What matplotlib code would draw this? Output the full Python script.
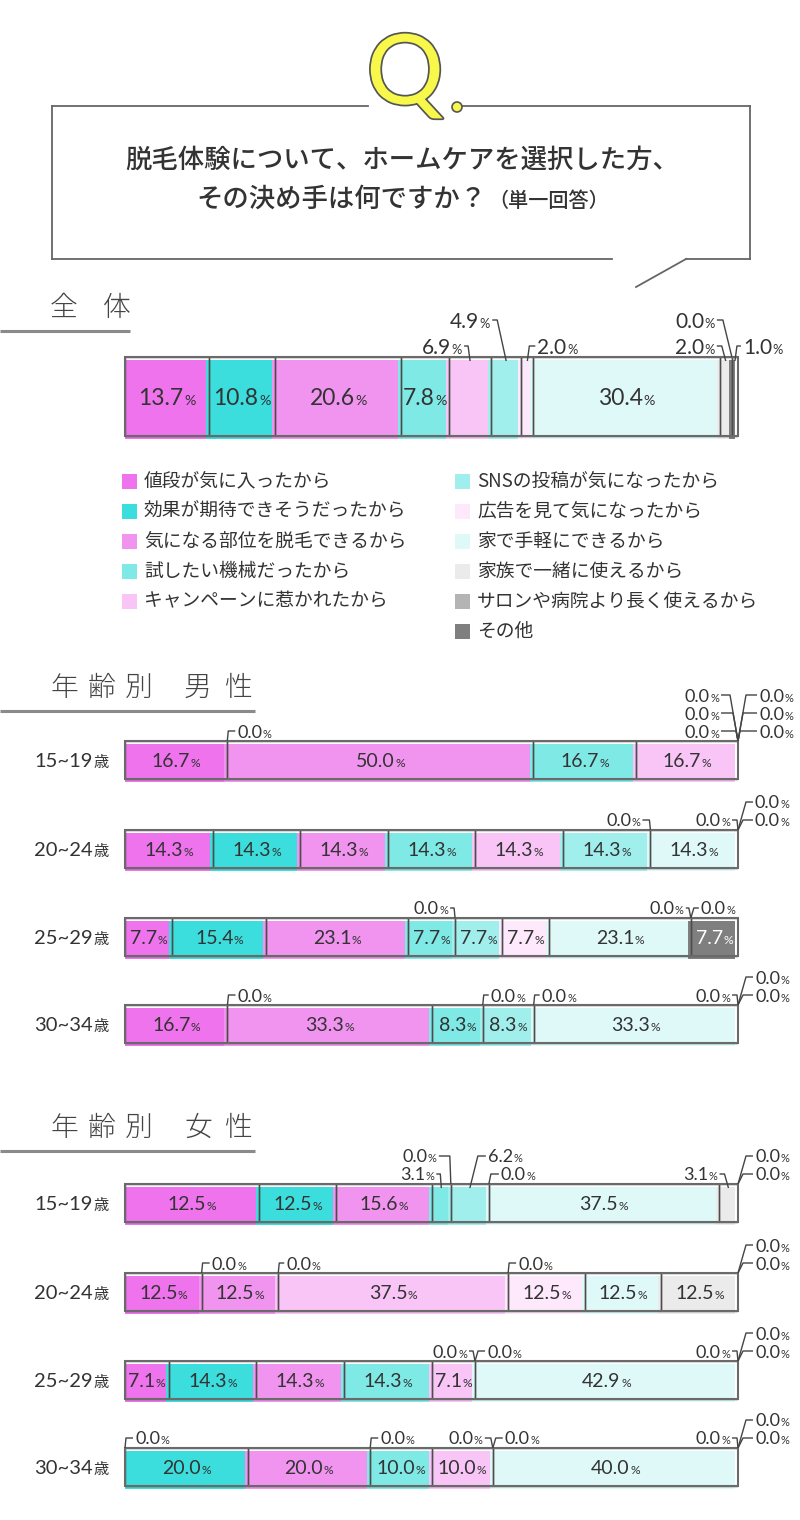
import matplotlib
matplotlib.use('Agg')
import matplotlib.pyplot as plt
from matplotlib import font_manager as fm
from matplotlib.transforms import offset_copy
from matplotlib.patches import Rectangle, Circle
import matplotlib.patheffects as pe
import numpy as np

JP = 'Noto Sans CJK JP'
plt.rcParams['font.family'] = [JP, 'DejaVu Sans']
_avail = {f.name for f in fm.fontManager.ttflist}
NUMFAM = 'Lato' if 'Lato' in _avail else 'DejaVu Sans'

# ---------------- data ----------------
TITLE_LINE1 = '脱毛体験について、ホームケアを選択した方、'
TITLE_LINE2 = 'その決め手は何ですか？'
TITLE_NOTE = '（単一回答）'

CATEGORIES = ['値段が気に入ったから', '効果が期待できそうだったから', '気になる部位を脱毛できるから',
              '試したい機械だったから', 'キャンペーンに惹かれたから', 'SNSの投稿が気になったから',
              '広告を見て気になったから', '家で手軽にできるから', '家族で一緒に使えるから',
              'サロンや病院より長く使えるから', 'その他']
COLORS = ['#ef73ec', '#3bdedc', '#f194ef', '#7fe9e5', '#f9c5f6', '#a1efed',
          '#fde8fc', '#dff9f9', '#ebebeb', '#b4b4b4', '#7f7f7f']

OVERALL = [13.7, 10.8, 20.6, 7.8, 6.9, 4.9, 2.0, 30.4, 2.0, 0.0, 1.0]
AGE_LABELS = ['15~19', '20~24', '25~29', '30~34']
MALE = [
    [16.7, 0.0, 50.0, 16.7, 16.7, 0.0, 0.0, 0.0, 0.0, 0.0, 0.0],
    [14.3, 14.3, 14.3, 14.3, 14.3, 14.3, 0.0, 14.3, 0.0, 0.0, 0.0],
    [7.7, 15.4, 23.1, 7.7, 0.0, 7.7, 7.7, 23.1, 0.0, 0.0, 7.7],
    [16.7, 0.0, 33.3, 8.3, 0.0, 8.3, 0.0, 33.3, 0.0, 0.0, 0.0],
]
FEMALE = [
    [21.9, 12.5, 15.6, 3.1, 0.0, 6.2, 0.0, 37.5, 3.1, 0.0, 0.0],
    [12.5, 0.0, 12.5, 0.0, 37.5, 0.0, 12.5, 12.5, 12.5, 0.0, 0.0],
    [7.1, 14.3, 14.3, 14.3, 7.1, 0.0, 0.0, 42.9, 0.0, 0.0, 0.0],
    [0.0, 20.0, 20.0, 10.0, 10.0, 0.0, 0.0, 40.0, 0.0, 0.0, 0.0],
]
# label printed in the source that differs from the segment length
FEMALE_PRINTED = {(0, 0): '12.5'}

# ---------------- layout ----------------
BX0, BW = 125, 613
TOTAL_TOP, TOTAL_H = 357, 79
MALE_TOPS = [741, 830, 918, 1005]
FEMALE_TOPS = [1184, 1273, 1361, 1448]
ROW_H = 38

# callouts: (category, side, level, text_dx, kink_dx[, mode, text])
TOTAL_CALLOUTS = [(4, 'L', 0, 8, 2), (5, 'L', 1, 16, 9), (6, 'R', 0, 10, 2),
                  (9, 'L', 1, 17, 9), (8, 'L', 0, 11, 4), (10, 'R', 0, 8, 2)]
MALE_CALLOUTS = [
    [(1, 'R', 0, 10, 1), (5, 'L', 2, 19, 8), (6, 'L', 1, 19, 5), (7, 'L', 0, 19, 2),
     (8, 'R', 0, 21, 2), (9, 'R', 1, 21, 5), (10, 'R', 2, 21, 8)],
    [(6, 'L', 0, 10, 1), (8, 'L', 0, 8, 1), (9, 'R', 1, 17, 8), (10, 'R', 0, 17, 5)],
    [(4, 'L', 0, 7, 1), (8, 'L', 0, 7, 2), (9, 'R', 0, 10, 3)],
    [(1, 'R', 0, 10, 1), (4, 'R', 0, 8, 1), (6, 'R', 0, 8, 1), (8, 'L', 0, 8, 1),
     (9, 'R', 1, 17, 8), (10, 'R', 0, 17, 5)],
]
FEMALE_CALLOUTS = [
    [(3, 'L', 0, 7, 1), (4, 'L', 1, 14, 1), (5, 'R', 1, 18, 8), (6, 'R', 0, 12, 2),
     (8, 'L', 0, 11, 4), (9, 'R', 1, 17, 8), (10, 'R', 0, 17, 5)],
    [(1, 'R', 0, 10, 1), (3, 'R', 0, 8, 1), (5, 'R', 0, 10, 1), (9, 'R', 1, 17, 8), (10, 'R', 0, 17, 5)],
    [(5, 'L', 0, 8, 2), (6, 'R', 0, 12, 3), (8, 'L', 0, 8, 1), (9, 'R', 1, 17, 8), (10, 'R', 0, 17, 5)],
    [(0, 'R', 0, 10, 1), (3, 'R', 0, 10, 1, 'start', '0.0'), (5, 'L', 0, 10, 2), (6, 'R', 0, 12, 3),
     (8, 'L', 0, 8, 1), (9, 'R', 1, 17, 8), (10, 'R', 0, 17, 5)],
]

TXT = '#333333'
LINE = '#444444'

fig = plt.figure(figsize=(8, 15.2), dpi=100)
fig.patch.set_facecolor('white')
axb = fig.add_axes([BX0 / 800, 0, BW / 800, 1])
axb.set_xlim(0, 100)
axb.set_ylim(1520, 0)
axb.axis('off')
axb.set_zorder(1)
bg = fig.add_axes([0, 0, 1, 1])
bg.set_xlim(0, 800)
bg.set_ylim(1520, 0)
bg.axis('off')
bg.set_zorder(2)
R = fig.canvas.get_renderer()


def px(p):
    return BX0 + p / 100.0 * BW


def composite(parts, x, y, ha='center', cfrac=0.36, gap=1.0, zorder=5):
    """parts: list of (text, props). y = visual centre (pixels, down)."""
    em = parts[0][1]['fontsize'] * 100 / 72.0
    base = y + cfrac * em
    ts, ws = [], []
    for s, props in parts:
        t = bg.text(0, 0, s, va='baseline', ha='left', zorder=zorder, **props)
        ts.append(t)
        ws.append(t.get_window_extent(renderer=R).width)
    total = sum(ws) + gap * (len(ws) - 1)
    if ha == 'center':
        x0 = x - total / 2
    elif ha == 'left':
        x0 = x
    else:
        x0 = x - total
    cx = x0
    for t, w in zip(ts, ws):
        t.set_position((cx, base))
        cx += w + gap


def pct(x, y, num, size, ha='center', color=TXT):
    p1 = dict(fontsize=size, family=NUMFAM, color=color, fontweight='normal')
    p2 = dict(fontsize=size * 0.62, family=NUMFAM, color=color, fontweight='normal')
    composite([(num, p1), ('%', p2)], x, y, ha=ha, gap=0.5)


def draw_row(vals, top, h, in_size, co_size, callouts, base, dy, printed=None):
    printed = printed or {}
    v = np.array(vals, float)
    w = v / v.sum() * 100
    left = np.concatenate([[0], np.cumsum(w)[:-1]])
    yc = top + h / 2
    nz = w > 0
    cols = [c for c, k in zip(COLORS, nz) if k]
    fills = axb.barh([yc] * int(nz.sum()), w[nz], left=left[nz], height=h,
                     color=cols, linewidth=0, zorder=1)
    off = offset_copy(axb.transData, fig=fig, x=-3, y=-3, units='dots')
    for p in fills:
        p.set_transform(off)
    axb.barh([yc] * int(nz.sum()), w[nz], left=left[nz], height=h, fill=False,
             edgecolor='#4d4d4d', linewidth=1.0, zorder=2)
    bg.add_patch(Rectangle((BX0, top), BW, h, fill=False, ec='#6a6a6a', lw=1.5, zorder=3))
    for i in range(len(v)):
        if v[i] >= 7.0:
            s = printed.get(i, f'{v[i]:.1f}')
            col = 'white' if i == 10 else TXT
            pct(px(left[i] + w[i] / 2), yc, s, in_size, 'center', col)
    for spec in callouts:
        i, side, level, tdx, kink = spec[:5]
        mode = spec[5] if len(spec) > 5 else 'auto'
        s = 1 if side == 'R' else -1
        if v[i] > 0 and mode == 'auto':
            ax_ = px(left[i] + w[i] / 2)
            ay = top + 4
        else:
            ax_ = px(left[i])
            ay = top
        label = spec[6] if len(spec) > 6 else printed.get(i, f'{v[i]:.1f}')
        ty = top - base - level * dy
        xs = [ax_, ax_ + s * kink, ax_ + s * (tdx - 2)]
        ys = [ay, ty, ty]
        bg.plot(xs, ys, color=LINE, lw=1.0, zorder=4, solid_capstyle='butt')
        pct(ax_ + s * tdx, ty, label, co_size, 'left' if s > 0 else 'right')


# ---------------- header: Q and question box ----------------
BOXC = '#666666'
bg.plot([52, 368], [106, 106], color=BOXC, lw=1.3)
bg.plot([462, 750], [106, 106], color=BOXC, lw=1.3)
bg.plot([52, 52], [106, 259], color=BOXC, lw=1.3)
bg.plot([750, 750], [106, 259], color=BOXC, lw=1.3)
bg.plot([52, 612], [259, 259], color=BOXC, lw=1.3)
bg.plot([686, 750], [259, 259], color=BOXC, lw=1.3)
bg.plot([686, 636], [259, 287], color=BOXC, lw=1.3)

YEL = '#f8f84a'
bg.text(405, 104, 'Q', fontsize=70, family=NUMFAM, fontweight='normal', color=YEL, ha='center',
        va='baseline', zorder=6,
        path_effects=[pe.Stroke(linewidth=2.5, foreground='#555555'), pe.Normal()])
bg.add_patch(Circle((457, 107), 5, fc=YEL, ec='#555555', lw=1.2, zorder=6))

bg.text(402, 160, TITLE_LINE1, ha='center', va='center', fontsize=19, fontweight='medium', color=TXT)
composite([(TITLE_LINE2, dict(fontsize=19, fontweight='medium', color=TXT)),
           (TITLE_NOTE, dict(fontsize=14.5, fontweight='medium', color=TXT))],
          403, 197, ha='center', cfrac=0.38, gap=2)


def header(chars, xs, y, uy, ux1):
    for c, x in zip(chars, xs):
        bg.text(x, y, c, ha='left', va='center', fontsize=20, fontweight='light', color='#444444')
    bg.plot([0, ux1], [uy, uy], color='#8a8a8a', lw=2.2, solid_capstyle='butt')


header('全体', [50, 103], 308, 331, 130)
header('年齢別男性', [51, 88, 125, 184, 224], 688, 711, 255)
header('年齢別女性', [51, 88, 125, 184, 224], 1128, 1151, 255)

# ---------------- overall ----------------
draw_row(OVERALL, TOTAL_TOP, TOTAL_H, 16.5, 15, TOTAL_CALLOUTS, 11, 26)

# ---------------- legend ----------------
for i, cat in enumerate(CATEGORIES):
    col, row = (0, i) if i < 5 else (1, i - 5)
    xs = 122 if col == 0 else 455
    y = 481 + row * 30
    bg.add_patch(Rectangle((xs, y - 7.5), 15, 15, fc=COLORS[i], ec='none'))
    bg.text(xs + 22, y, cat, ha='left', va='center', fontsize=13.5, color=TXT)

# ---------------- age rows ----------------
def age_label(lbl, y):
    composite([(lbl, dict(fontsize=14.5, family=NUMFAM, color=TXT, fontweight='normal')),
               ('歳', dict(fontsize=11, color=TXT))], 109, y, ha='right', gap=1)


for k in range(4):
    draw_row(MALE[k], MALE_TOPS[k], ROW_H, 14, 13, MALE_CALLOUTS[k], 10, 18)
    age_label(AGE_LABELS[k], MALE_TOPS[k] + ROW_H / 2)
for k in range(4):
    pr = {i: s for (r, i), s in FEMALE_PRINTED.items() if r == k}
    draw_row(FEMALE[k], FEMALE_TOPS[k], ROW_H, 14, 13, FEMALE_CALLOUTS[k], 10, 18, printed=pr)
    age_label(AGE_LABELS[k], FEMALE_TOPS[k] + ROW_H / 2)

fig.savefig('out.png', dpi=100, facecolor='white')
